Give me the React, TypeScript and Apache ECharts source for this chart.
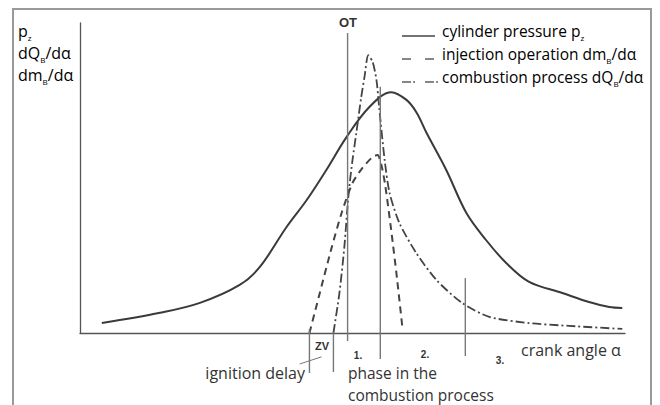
import React, { useEffect, useRef } from "react";
import * as echarts from "echarts";

// crank angle axis (arbitrary units 0..100) and relative magnitude (0..100)
const pressureX = [4.0, 14.7, 22.0, 29.3, 33.0, 37.9, 41.6, 45.2, 48.9, 53.1, 57.1, 59.9, 61.8, 63.6, 67.2, 70.9, 74.5, 78.2, 82.4, 88.5, 93.4, 97.1, 99.5];
const pressureY = [3.2, 6.5, 9.7, 15.5, 21.3, 34.2, 42.9, 52.6, 63.2, 72.9, 77.7, 75.2, 71.0, 64.5, 52.6, 38.7, 30.0, 22.6, 16.5, 12.9, 10.0, 8.4, 8.1];

const injectionX = [42.1, 44.0, 46.2, 48.0, 50.0, 51.8, 53.7, 54.6, 55.3, 56.0, 57.1, 58.2, 59.2];
const injectionY = [0, 12.9, 27.7, 38.7, 48.4, 53.2, 56.8, 57.4, 54.2, 47.7, 33.2, 17.1, 1.0];

const combustionX = [46.5, 47.6, 48.5, 49.3, 50.0, 50.7, 51.6, 52.2, 52.9, 53.7, 54.4, 54.9, 55.9, 56.8, 58.6, 61.7, 65.4, 70.1, 75.1, 82.4, 89.7, 99.5];
const combustionY = [0, 12.9, 27.7, 45.2, 55.8, 64.5, 76.1, 82.6, 89.6, 87.4, 81.6, 72.6, 55.8, 45.2, 35.5, 25.8, 17.1, 9.7, 5.2, 3.2, 2.3, 1.3];

// vertical marker lines: ignition start, combustion start, OT, phase boundaries
const markerX = [42.1, 46.5, 49.1, 55.1, 70.7];
const markerTop = [1.3, 0.3, 96.8, 79.4, 17.7];
const markerBottom = [-12.9, -12.6, -2.6, -8.4, -7.4];

const delayTickX = [40.3, 44.3];
const delayTickY = [-10.0, -7.7];

const legendTexts = [
  "{a|cylinder pressure p}{s|z}",
  "{a|injection operation dm}{s|B}{a|/dα}",
  "{a|combustion process dQ}{s|B}{a|/dα}",
];
const yLabelTexts = ["{a|p}{s|z}", "{a|dQ}{s|B}{a|/dα}", "{a|dm}{s|B}{a|/dα}"];
const phaseLabels = ["1.", "2.", "3."];

const FONT = "'Open Sans', 'Noto Sans', sans-serif";
const TXT = "#333";
const richFor = (size: number) => ({
  a: { fontSize: size, fontFamily: FONT, color: TXT, lineHeight: 20 },
  s: { fontSize: 8, fontFamily: FONT, color: TXT, lineHeight: 10, verticalAlign: "bottom" },
});

const zip = (xs: number[], ys: number[]) => xs.map((x, i) => [x, ys[i]]);

export default function App() {
  const ref = useRef<HTMLDivElement>(null);
  useEffect(() => {
    if (!ref.current) return;
    const chart = echarts.init(ref.current, null, { renderer: "svg" });

    const markerSeries = markerX.map((x, i) => ({
      type: "line",
      data: [
        [x, markerTop[i]],
        [x, markerBottom[i]],
      ],
      showSymbol: false,
      clip: false,
      silent: true,
      lineStyle: { color: "#777", width: 1.4 },
    }));

    const legendY = [31, 54, 77];
    const ylabY = [31, 53, 75];
    const stroke = { stroke: "#444", lineWidth: 1.3 };
    const graphics: any[] = [
      {
        type: "rect",
        shape: { x: 13, y: 9, width: 638, height: 430 },
        style: { fill: "none", stroke: "#999", lineWidth: 2 },
        silent: true,
      },
      // legend samples
      { type: "line", shape: { x1: 402, y1: 36, x2: 435, y2: 36 }, style: stroke },
      { type: "line", shape: { x1: 402, y1: 59, x2: 411, y2: 59 }, style: stroke },
      { type: "line", shape: { x1: 425, y1: 59, x2: 434, y2: 59 }, style: stroke },
      { type: "line", shape: { x1: 402, y1: 82, x2: 411, y2: 82 }, style: stroke },
      { type: "circle", shape: { cx: 414, cy: 82, r: 0.8 }, style: { fill: "#444" } },
      { type: "line", shape: { x1: 425, y1: 82, x2: 434, y2: 82 }, style: stroke },
      { type: "circle", shape: { cx: 437, cy: 82, r: 0.8 }, style: { fill: "#444" } },
    ];
    legendTexts.forEach((t, i) => {
      graphics.push({
        type: "text",
        style: { text: t, x: 442, y: legendY[i], verticalAlign: "middle", rich: richFor(15.5) },
      });
    });
    yLabelTexts.forEach((t, i) => {
      graphics.push({
        type: "text",
        style: { text: t, x: 18, y: ylabY[i], verticalAlign: "middle", rich: richFor(16) },
      });
    });
    const bold = (text: string, x: number, y: number, size: number) => ({
      type: "text",
      style: {
        text, x, y, align: "center", verticalAlign: "middle",
        font: `bold ${size}px Arial, 'Liberation Sans', sans-serif`, fill: "#333",
      },
    });
    graphics.push(bold("OT", 348, 22, 13));
    graphics.push(bold("ZV", 322, 346, 11));
    const phaseX = [358, 425, 500];
    const phaseY = [355, 354, 360];
    phaseLabels.forEach((t, i) => graphics.push(bold(t, phaseX[i], phaseY[i], 10)));
    const plain = (text: string, x: number, y: number, align: string, size = 16) => ({
      type: "text",
      style: { text, x, y, align, verticalAlign: "middle", font: `${size}px ${FONT}`, fill: TXT },
    });
    graphics.push(plain("crank angle α", 521, 350, "left"));
    graphics.push(plain("ignition delay", 305, 373, "right"));
    graphics.push(plain("phase in the", 348, 373, "left", 15.5));
    graphics.push(plain("combustion process", 348, 394.5, "left", 15.5));

    chart.setOption({
      animation: false,
      backgroundColor: "#fff",
      grid: { left: 80, right: 35, top: 23, bottom: 72 },
      xAxis: {
        type: "value", min: 0, max: 100,
        axisLine: { show: true, lineStyle: { color: "#555", width: 1.3 } },
        axisTick: { show: false }, axisLabel: { show: false }, splitLine: { show: false },
      },
      yAxis: {
        type: "value", min: 0, max: 100,
        axisLine: { show: true, lineStyle: { color: "#555", width: 1.3 } },
        axisTick: { show: false }, axisLabel: { show: false }, splitLine: { show: false },
      },
      series: [
        {
          name: "cylinder pressure",
          type: "line", data: zip(pressureX, pressureY), smooth: 0.35, showSymbol: false,
          lineStyle: { color: "#3a3a3a", width: 2 },
        },
        {
          name: "injection operation",
          type: "line", data: zip(injectionX, injectionY), smooth: 0.25, showSymbol: false,
          lineStyle: { color: "#444", width: 2, type: [7, 5] },
        },
        {
          name: "combustion process",
          type: "line", data: zip(combustionX, combustionY), smooth: 0.25, showSymbol: false,
          lineStyle: { color: "#444", width: 1.8, type: [9, 3, 2, 3] },
        },
        ...markerSeries,
        {
          type: "line", data: zip(delayTickX, delayTickY), showSymbol: false, clip: false,
          lineStyle: { color: "#777", width: 1 },
        },
      ],
      graphic: graphics,
    } as any);
    return () => chart.dispose();
  }, []);
  return (
    <div
      ref={ref}
      style={{ position: "fixed", left: 0, top: 0, width: 660, height: 405, background: "#fff" }}
    />
  );
}
